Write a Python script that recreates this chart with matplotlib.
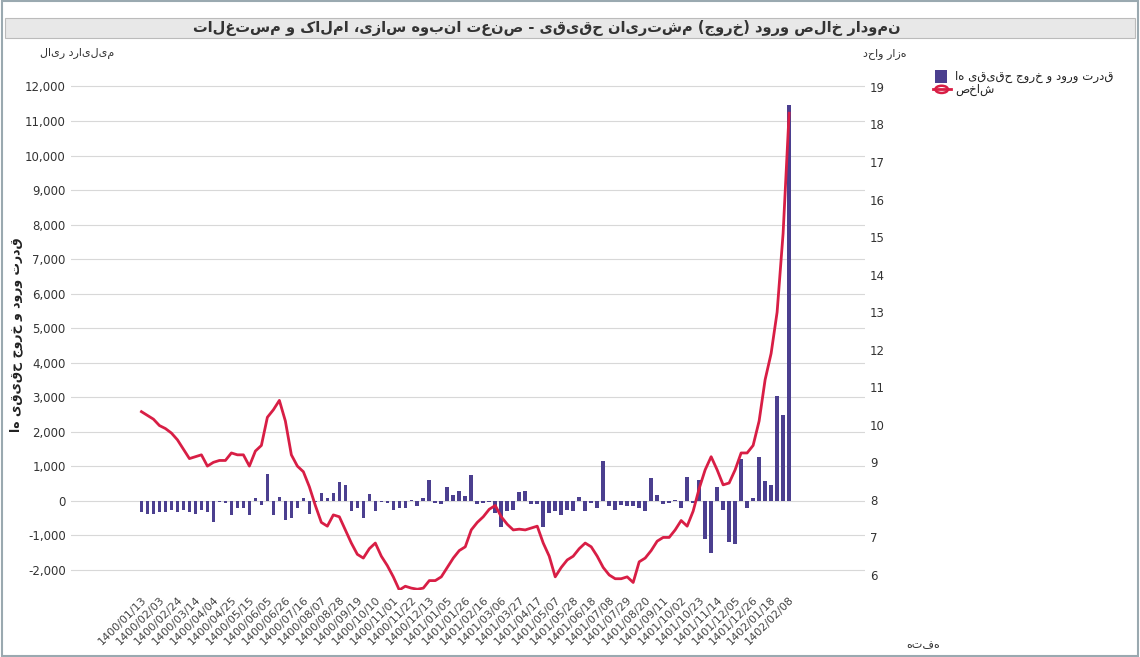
import numpy as np
import matplotlib.pyplot as plt
from matplotlib.ticker import FuncFormatter
from matplotlib.patches import Rectangle

plt.rcParams['font.family'] = ['DejaVu Sans']

# weekly net inflow of individuals (thousand billion rial)
flow = [-0.32, -0.37, -0.37, -0.32, -0.32, -0.27, -0.32, -0.27, -0.32, -0.37,
        -0.27, -0.32, -0.60, -0.03, -0.06, -0.40, -0.22, -0.22, -0.40, 0.07,
        -0.12, 0.77, -0.40, 0.12, -0.55, -0.50, -0.22, 0.07, -0.37, -0.03,
        0.22, 0.07, 0.23, 0.55, 0.45, -0.29, -0.22, -0.50, 0.19, -0.29,
        -0.03, -0.06, -0.27, -0.22, -0.22, 0.02, -0.15, 0.09, 0.60, -0.06,
        -0.10, 0.40, 0.18, 0.30, 0.13, 0.74, -0.08,
        -0.05, -0.03, -0.35, -0.75, -0.30, -0.25, 0.25, 0.30, -0.10, -0.10,
        -0.75, -0.35, -0.30, -0.40, -0.27, -0.30, 0.12, -0.30, -0.05, -0.20,
        1.15, -0.15, -0.25, -0.12, -0.15, -0.15, -0.20, -0.30, 0.65, 0.18,
        -0.10, -0.07, 0.02, -0.20, 0.70, -0.07, 0.60, -1.10, -1.50, 0.40,
        -0.25, -1.20, -1.25, 1.20, -0.20, 0.07, 1.28, 0.58, 0.45, 3.05,
        2.50, 11.45]
flow = [v * 1000 for v in flow]

index = [10.35, 10.25, 10.15, 9.98, 9.9, 9.78, 9.6, 9.35, 9.1, 9.15,
         9.2, 8.9, 9.0, 9.05, 9.05, 9.25, 9.2, 9.2, 8.9, 9.3,
         9.45, 10.2, 10.4, 10.65, 10.1, 9.2, 8.9, 8.75, 8.35, 7.85,
         7.4, 7.3, 7.6, 7.55, 7.2, 6.85, 6.55, 6.45, 6.7, 6.85,
         6.5, 6.25, 5.95, 5.6, 5.7, 5.65, 5.62, 5.65, 5.85, 5.85,
         5.95, 6.2, 6.45, 6.65, 6.75, 7.2, 7.4, 7.55, 7.75, 7.85,
         7.55, 7.35, 7.2, 7.22, 7.2, 7.25, 7.3, 6.85, 6.5, 5.95,
         6.2, 6.4, 6.5, 6.7, 6.85, 6.75, 6.5, 6.2, 6.0, 5.9,
         5.9, 5.95, 5.8, 6.35, 6.45, 6.65, 6.9, 7.0, 7.0, 7.2,
         7.45, 7.3, 7.7, 8.3, 8.8, 9.15, 8.8, 8.4, 8.45, 8.8,
         9.25, 9.25, 9.45, 10.1, 11.2, 11.9, 13.0, 15.1, 18.3]

tick_labels = ["1400/01/13", "1400/02/03", "1400/02/24", "1400/03/14", "1400/04/04",
               "1400/04/25", "1400/05/15", "1400/06/05", "1400/06/26", "1400/07/16",
               "1400/08/07", "1400/08/28", "1400/09/19", "1400/10/10", "1400/11/01",
               "1400/11/22", "1400/12/13", "1401/01/05", "1401/01/26", "1401/02/16",
               "1401/03/06", "1401/03/27", "1401/04/17", "1401/05/07", "1401/05/28",
               "1401/06/18", "1401/07/08", "1401/07/29", "1401/08/20", "1401/09/11",
               "1401/10/02", "1401/10/23", "1401/11/14", "1401/12/05", "1401/12/26",
               "1402/01/18", "1402/02/08"]


def rtl(s):
    # visual order for right-to-left text, mirrored brackets
    return s[::-1].translate(str.maketrans("()", ")("))


n = len(index)
x = np.arange(n)

fig = plt.figure(figsize=(11.4, 6.57), dpi=100)
fig.patches.append(Rectangle((0.002, 0.002), 0.996, 0.996, transform=fig.transFigure,
                             fill=False, edgecolor="#9aa9b0", lw=1.5))
fig.patches.append(Rectangle((0.004, 0.942), 0.992, 0.03, transform=fig.transFigure,
                             facecolor="#e8e8e8", edgecolor="#bbbbbb", lw=0.8))
fig.text(0.48, 0.957, rtl("نمودار خالص ورود (خروج) مشتریان حقیقی - صنعت انبوه سازی، املاک و مستغلات"),
         ha="center", va="center", fontsize=10.5, fontweight="bold", color="#333333")

ax = fig.add_axes([0.062, 0.102, 0.697, 0.8])
ax.bar(x, flow, width=0.6, color="#4b3f8f", zorder=2)
ax.set_ylim(-2580, 12640)
ax.set_xlim(-11.8, 120.7)
ax.set_yticks(range(-2000, 12001, 1000))
ax.yaxis.set_major_formatter(FuncFormatter(lambda v, p: f"{int(v):,}"))
ax.grid(axis="y", color="#d8d8d8", lw=0.8, zorder=0)
ax.set_xticks(x[::3])
ax.set_xticklabels(tick_labels, rotation=45, ha="right", rotation_mode="anchor", fontsize=8, color="#444444")
ax.tick_params(axis="y", labelsize=8.5, colors="#333333", length=0)
ax.tick_params(axis="x", length=0)
for s in ax.spines.values():
    s.set_visible(False)
fig.text(0.014, 0.49, rtl("قدرت ورود و خروج حقیقی ها"), fontsize=9, fontweight="bold",
         rotation=90, ha="center", va="center", color="#222222")

ax2 = ax.twinx()
ax2.plot(x, index, color="#d81e45", lw=2, zorder=3)
ax2.set_ylim(5.6, 19.6)
ax2.set_yticks(range(6, 20))
ax2.tick_params(axis="y", labelsize=8.5, colors="#333333", length=0)
for s in ax2.spines.values():
    s.set_visible(False)

fig.text(0.035, 0.918, rtl("میلیارد ریال"), fontsize=8, ha="left", va="center", color="#333333")
fig.text(0.757, 0.918, rtl("هزار واحد"), fontsize=8, ha="left", va="center", color="#333333")
fig.text(0.795, 0.018, rtl("هفته"), fontsize=8, ha="left", va="center", color="#333333")

# legend
fig.patches.append(Rectangle((0.82, 0.874), 0.011, 0.02, transform=fig.transFigure,
                             facecolor="#4b3f8f", edgecolor="none"))
fig.text(0.838, 0.884, rtl("قدرت ورود و خروج حقیقی ها"), fontsize=8.5, va="center", color="#222222")
fig.add_artist(plt.Line2D([0.818, 0.834], [0.864, 0.864], color="#d81e45", lw=2, transform=fig.transFigure))
fig.add_artist(plt.Circle((0.826, 0.864), 0.0055, transform=fig.transFigure, fill=False,
                          edgecolor="#d81e45", lw=1.8))
fig.text(0.838, 0.864, rtl("شاخص"), fontsize=8.5, va="center", color="#222222")

fig.savefig("out.png", dpi=100)
